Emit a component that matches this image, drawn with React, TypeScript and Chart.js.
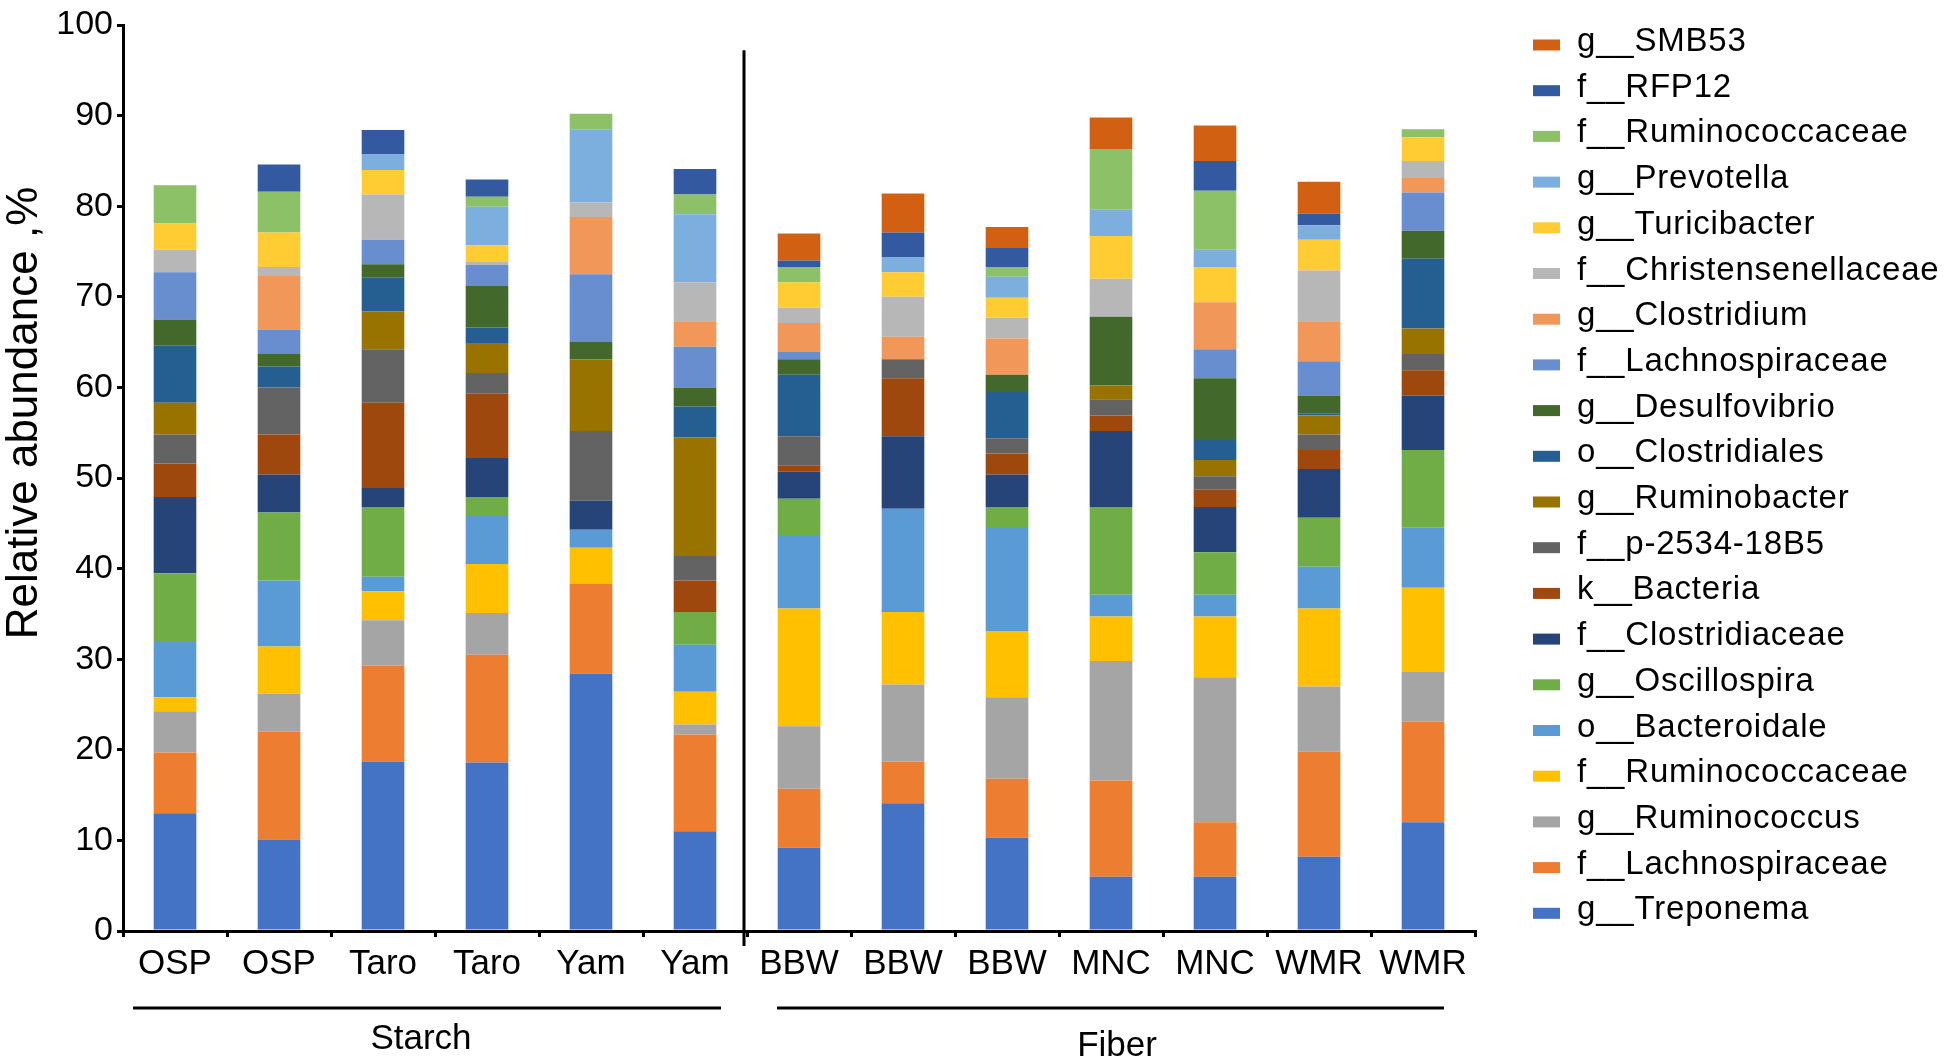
import React, { useEffect, useRef } from "react";
import { Chart, registerables } from "chart.js";

Chart.register(...registerables);

// ---- data ----
const categories = ["OSP", "OSP", "Taro", "Taro", "Yam", "Yam", "BBW", "BBW", "BBW", "MNC", "MNC", "WMR", "WMR"];
const groupLabels = ["Starch", "Fiber"];
const yTicks = [0, 10, 20, 30, 40, 50, 60, 70, 80, 90, 100];

// series listed bottom of stack -> top of stack
const seriesNames = [
  "g__Treponema",
  "f__Lachnospiraceae",
  "g__Ruminococcus",
  "f__Ruminococcaceae",
  "o__Bacteroidale",
  "g__Oscillospira",
  "f__Clostridiaceae",
  "k__Bacteria",
  "f__p-2534-18B5",
  "g__Ruminobacter",
  "o__Clostridiales",
  "g__Desulfovibrio",
  "f__Lachnospiraceae",
  "g__Clostridium",
  "f__Christensenellaceae",
  "g__Turicibacter",
  "g__Prevotella",
  "f__Ruminococcaceae",
  "f__RFP12",
  "g__SMB53",
];

const seriesColors = [
  "#4472C4", "#ED7D31", "#A5A5A5", "#FFC000", "#5B9BD5", "#70AD47",
  "#264478", "#9E480E", "#636363", "#997300", "#255E91", "#43682B",
  "#698ED0", "#F1975A", "#B7B7B7", "#FFCD33", "#7CAFDD", "#8CC168",
  "#335AA1", "#D26012",
];

const treponema = [13.0, 10.1, 18.7, 18.6, 28.4, 11.0, 9.2, 14.1, 10.3, 6.0, 6.0, 8.2, 12.0];
const lachnospiraceaeA = [6.7, 11.9, 10.6, 11.9, 9.9, 10.7, 6.5, 4.6, 6.5, 10.6, 6.0, 11.6, 11.1];
const ruminococcus = [4.55, 4.2, 5.0, 4.6, 0, 1.1, 6.9, 8.5, 9.0, 13.2, 16.0, 7.2, 5.5];
const ruminococcaceaeA = [1.55, 5.2, 3.2, 5.4, 4.0, 3.6, 13.0, 8.0, 7.3, 4.9, 6.7, 8.6, 9.3];
const bacteroidale = [6.1, 7.3, 1.6, 5.3, 2.0, 5.2, 8.1, 11.4, 11.5, 2.4, 2.4, 4.6, 6.6];
const oscillospira = [7.6, 7.5, 7.7, 2.1, 0, 3.6, 4.0, 0, 2.2, 9.7, 4.7, 5.4, 8.6];
const clostridiaceae = [8.4, 4.2, 2.1, 4.3, 3.2, 0, 3.0, 8.0, 3.6, 8.4, 5.0, 5.4, 6.0];
const bacteria = [3.7, 4.4, 9.4, 7.1, 0, 3.5, 0.7, 6.4, 2.3, 1.7, 1.9, 2.1, 2.8];
const p253418B5 = [3.2, 5.2, 5.9, 2.3, 7.7, 2.7, 3.2, 2.1, 1.7, 1.8, 1.5, 1.7, 1.8];
const ruminobacter = [3.5, 0, 4.2, 3.3, 7.9, 13.1, 0, 0, 0, 1.5, 1.8, 2.1, 2.8];
const clostridiales = [6.3, 2.3, 3.7, 1.7, 0, 3.4, 6.8, 0, 5.1, 0, 2.2, 0.2, 7.7];
const desulfovibrio = [2.9, 1.4, 1.5, 4.6, 1.9, 2.1, 1.7, 0, 1.9, 7.6, 6.8, 2.0, 3.1];
const lachnospiraceaeB = [5.2, 2.7, 2.7, 2.3, 7.5, 4.5, 0.8, 0, 0, 0, 3.2, 3.8, 4.2];
const clostridium = [0, 5.9, 0, 0, 6.3, 2.8, 3.2, 2.5, 4.0, 0, 5.2, 4.4, 1.6];
const christensenellaceae = [2.5, 1.0, 5.0, 0.35, 1.6, 4.3, 1.7, 4.4, 2.3, 4.2, 0, 5.6, 1.9];
const turicibacter = [2.9, 3.8, 2.7, 1.8, 0, 0, 2.8, 2.7, 2.2, 4.7, 3.9, 3.4, 2.6];
const prevotella = [0, 0, 1.7, 4.3, 8.1, 7.5, 0, 1.7, 2.3, 2.9, 1.9, 1.6, 0];
const ruminococcaceaeB = [4.2, 4.5, 0, 1.1, 1.7, 2.2, 1.7, 0, 1.1, 6.7, 6.5, 0, 0.9];
const rfp12 = [0, 3.0, 2.7, 1.9, 0, 2.8, 0.7, 2.7, 2.1, 0, 3.3, 1.3, 0];
const smb53 = [0, 0, 0, 0, 0, 0, 3.0, 4.3, 2.3, 3.5, 3.9, 3.5, 0];

const seriesValues = [
  treponema, lachnospiraceaeA, ruminococcus, ruminococcaceaeA, bacteroidale,
  oscillospira, clostridiaceae, bacteria, p253418B5, ruminobacter,
  clostridiales, desulfovibrio, lachnospiraceaeB, clostridium,
  christensenellaceae, turicibacter, prevotella, ruminococcaceaeB, rfp12, smb53,
];

const FONT = '"Liberation Sans", Arial, sans-serif';

const overlayPlugin = {
  id: "overlay",
  afterDraw(chart: any) {
    const { ctx } = chart;
    const x = chart.scales.x;
    const y = chart.scales.y;
    ctx.save();
    ctx.strokeStyle = "#000";
    ctx.fillStyle = "#000";

    // separator between the two groups
    const sepX = (x.getPixelForValue(5) + x.getPixelForValue(6)) / 2 - 3;
    ctx.lineWidth = 3;
    ctx.beginPath();
    ctx.moveTo(sepX, y.getPixelForValue(97.2));
    ctx.lineTo(sepX, y.bottom + 15);
    ctx.stroke();

    // group underlines
    const lineY = 1008;
    ctx.lineWidth = 3;
    ctx.beginPath();
    ctx.moveTo(x.left + 10, lineY);
    ctx.lineTo(sepX - 23, lineY);
    ctx.moveTo(sepX + 33, lineY);
    ctx.lineTo(x.right - 31, lineY);
    ctx.stroke();

    ctx.font = `35px ${FONT}`;
    ctx.textAlign = "center";
    ctx.textBaseline = "alphabetic";
    ctx.fillText(groupLabels[0], 421, 1049);
    ctx.fillText(groupLabels[1], 1117, 1056);

    // y axis title
    ctx.save();
    ctx.translate(37, 413);
    ctx.rotate(-Math.PI / 2);
    ctx.font = `44px ${FONT}`;
    ctx.textAlign = "center";
    ctx.fillText("Relative abundance ,%", 0, 0);
    ctx.restore();

    // legend (top of stack first)
    ctx.font = `33px ${FONT}`;
    ctx.textAlign = "left";
    (ctx as any).letterSpacing = "0.8px";
    const n = seriesNames.length;
    for (let r = 0; r < n; r++) {
      const i = n - 1 - r;
      const cy = 45 + r * 45.7;
      ctx.fillStyle = seriesColors[i];
      ctx.fillRect(1533, cy - 5.5, 27, 11);
      ctx.fillStyle = "#000";
      ctx.fillText(seriesNames[i], 1577, cy + 6);
    }
    (ctx as any).letterSpacing = "0px";
    ctx.restore();
  },
};

export default function App() {
  const ref = useRef<HTMLCanvasElement | null>(null);

  useEffect(() => {
    document.body.style.margin = "0";
    const canvas = ref.current;
    if (!canvas) return;
    const chart = new Chart(canvas, {
      type: "bar",
      data: {
        labels: categories,
        datasets: seriesNames.map((name, i) => ({
          label: name,
          data: seriesValues[i],
          backgroundColor: seriesColors[i],
          borderWidth: 0,
          categoryPercentage: 1,
          barPercentage: 0.41,
        })),
      },
      options: {
        responsive: false,
        animation: false,
        devicePixelRatio: 1,
        layout: { padding: { top: 25, left: 0, right: 471, bottom: 0 } },
        plugins: {
          legend: { display: false },
          tooltip: { enabled: false },
        },
        scales: {
          x: {
            stacked: true,
            grid: {
              offset: true,
              drawOnChartArea: false,
              drawTicks: true,
              tickLength: 6,
              color: "#000",
              lineWidth: 3,
            },
            border: { display: true, color: "#000", width: 3 },
            ticks: {
              color: "#000",
              font: { family: FONT, size: 35 },
              padding: 6,
              maxRotation: 0,
              autoSkip: false,
            },
            afterFit: (s: any) => {
              s.height = 129;
            },
          },
          y: {
            stacked: true,
            min: 0,
            max: 100,
            afterBuildTicks: (s: any) => {
              s.ticks = yTicks.map((v) => ({ value: v }));
            },
            grid: {
              drawOnChartArea: false,
              drawTicks: true,
              tickLength: 6,
              color: "#000",
              lineWidth: 3,
            },
            border: { display: true, color: "#000", width: 3 },
            ticks: {
              color: "#000",
              font: { family: FONT, size: 34 },
              padding: 4,
            },
            afterFit: (s: any) => {
              s.width = 123;
            },
          },
        },
      },
      plugins: [overlayPlugin],
    });
    return () => chart.destroy();
  }, []);

  return (
    <div style={{ width: 1946, height: 1060, background: "#fff" }}>
      <canvas ref={ref} width={1946} height={1060} style={{ display: "block" }} />
    </div>
  );
}
